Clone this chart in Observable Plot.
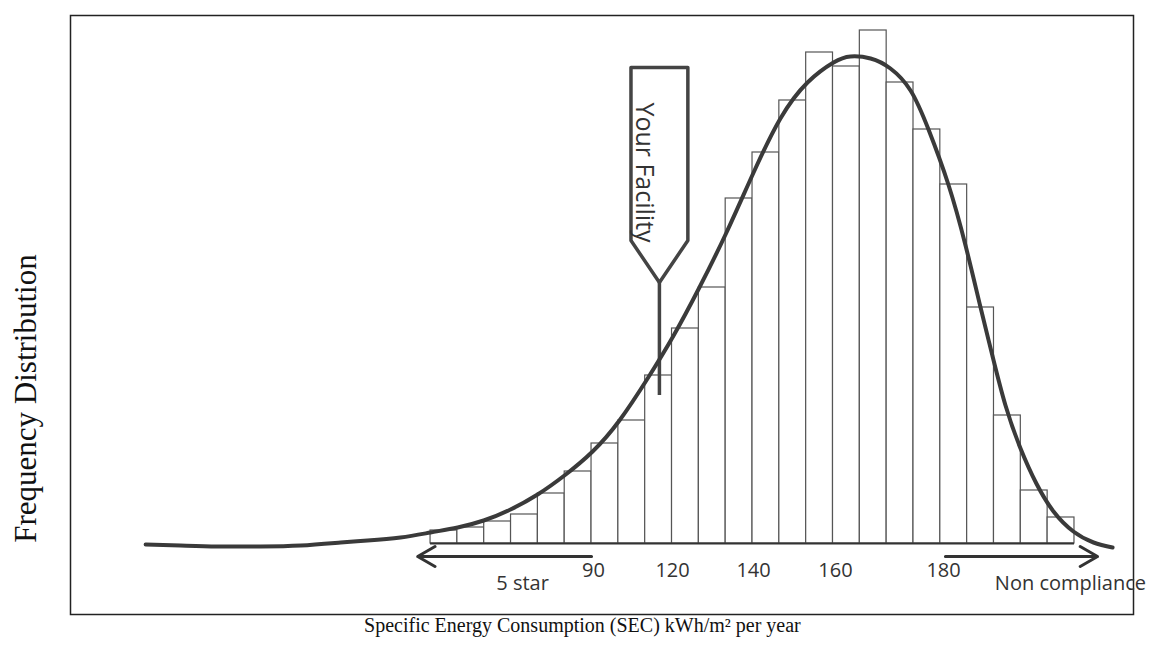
<!DOCTYPE html>
<html><head><meta charset="utf-8">
<script src="https://cdn.jsdelivr.net/npm/d3@7"></script>
<script src="https://cdn.jsdelivr.net/npm/@observablehq/plot@0.6"></script>
<style>body{margin:0;background:#fff}</style>
</head><body><div id="chart"></div>
<script>
// Histogram bins (index units) and their frequencies (relative units)
const barFreq = [13,16,22,29,50,72,100,123,168,215,256,345,391,443,491,477,513,461,414,359,236,128,53,26];
// Fitted distribution curve, in bin-position / frequency units
const curveX = [-10.62,-9.32,-7.94,-6.34,-4.84,-3.35,-2.35,-1.12,0,1.01,1.98,2.98,3.99,4.99,6.04,7.04,8.09,9.06,10.02,11.03,12.04,13.04,14.05,15.02,15.65,16.40,17.14,17.89,18.56,19.30,19.94,20.50,20.94,21.43,21.99,22.58,23.22,23.96,24.71,25.42];
const curveY = [-1,-2,-3,-3,-2,1,3,6,11,16,23,34,49,68,92,123,165,208,256,311,371,425,461,481,487,485,475,453,414,359,298,236,188,138,95,60,32,12,1,-4];
// Tick labels and where they sit along the bin axis
const tickLabels = ["90","120","140","160","180"];
const tickPos = [6.07, 9.02, 12.04, 15.09, 19.12];
// Range annotations
const rangeLabels = ["5 star","Non compliance"];
const rangeFrom = [6.0, 19.19];
const rangeTo = [-0.48, 24.86];
const rangeLabelPos = [3.43, 23.85];
// Facility marker
const facilityPos = 8.53;
const facilityLabel = "Your Facility";
const xTitle = "Specific Energy Consumption (SEC) kWh/m\u00B2 per year";
const yTitle = "Frequency Distribution";

const bars = barFreq.map((f, i) => ({x1: i, x2: i + 1, f}));
const curve = curveX.map((x, i) => ({x, y: curveY[i]}));
const ticks = tickLabels.map((t, i) => ({t, x: tickPos[i]}));
const ranges = rangeLabels.map((t, i) => ({t, from: rangeFrom[i], to: rangeTo[i], lx: rangeLabelPos[i]}));

// marker shape (layout constants)
const hw = 1.06, mTop = 476, mShoulder = 303, mTip = 261, mStem = 148;
const poly = [[facilityPos - hw, mTop],[facilityPos + hw, mTop],[facilityPos + hw, mShoulder],[facilityPos, mTip],[facilityPos - hw, mShoulder],[facilityPos - hw, mTop]];

const sans = "'Open Sans', sans-serif";
const serif = "'Liberation Serif', 'Times New Roman', serif";

const chart = Plot.plot({
  width: 1165,
  height: 666,
  marginLeft: 70,
  marginRight: 32,
  marginTop: 15,
  marginBottom: 52,
  x: {domain: [-13.42, 26.2], axis: null},
  y: {domain: [-71, 528], axis: null},
  style: {background: "white"},
  marks: [
    Plot.frame({stroke: "#222", strokeWidth: 1.5}),
    Plot.rect(bars, {x1: "x1", x2: "x2", y1: 0, y2: "f", fill: "white", stroke: "#555", strokeWidth: 1.2}),
    Plot.ruleY([0], {x1: 0, x2: 24, stroke: "#333", strokeWidth: 2}),
    Plot.line(poly, {x: d => d[0], y: d => d[1], stroke: "#444", strokeWidth: 3.5, fill: "white"}),
    Plot.ruleX([facilityPos], {y1: mStem, y2: mTip, stroke: "#444", strokeWidth: 3.5}),
    Plot.text([facilityLabel], {x: facilityPos - 0.59, y: 371, rotate: 90, fontSize: 25, fontFamily: sans, fill: "#333"}),
    Plot.line(curve, {x: "x", y: "y", curve: "natural", stroke: "#3a3a3a", strokeWidth: 4}),
    Plot.text(ticks, {x: "x", y: -27, text: "t", fontSize: 20, fontFamily: sans, fill: "#333"}),
    Plot.arrow(ranges, {x1: "from", x2: "to", y1: -13, y2: -13, stroke: "#333", strokeWidth: 3, headLength: 10}),
    Plot.text(ranges, {x: "lx", y: -40, text: "t", fontSize: 20, fontFamily: sans, fill: "#333"}),
    Plot.text([yTitle], {x: -15.06, y: 145, rotate: -90, fontSize: 31, fontFamily: serif, fill: "#111"}),
    Plot.text([xTitle], {x: 5.66, y: -82, fontSize: 20, fontFamily: serif, fill: "#111"})
  ]
});
document.getElementById("chart").appendChild(chart);
</script>
</body></html>
